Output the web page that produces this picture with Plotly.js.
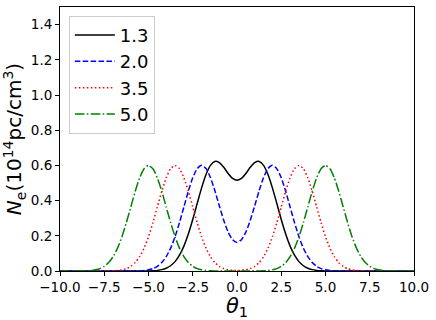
<!DOCTYPE html>
<html>
<head>
<meta charset="utf-8">
<script src="https://cdn.plot.ly/plotly-3.0.1.min.js"></script>
<style>
  html, body { margin: 0; padding: 0; background: #fff; }
  #chart { width: 436px; height: 320px; }
</style>
</head>
<body>
<div id="chart"></div>
<script>
// theta_1 sample positions
const theta = [
  -10, -9.75, -9.5, -9.25, -9, -8.75, -8.5, -8.25, -8, -7.75, -7.5, -7.25, -7, -6.75, -6.5, -6.25,
  -6, -5.75, -5.5, -5.25, -5, -4.75, -4.5, -4.25, -4, -3.75, -3.5, -3.25, -3, -2.75, -2.5, -2.25,
  -2, -1.75, -1.5, -1.25, -1, -0.75, -0.5, -0.25, 0, 0.25, 0.5, 0.75, 1, 1.25, 1.5, 1.75,
  2, 2.25, 2.5, 2.75, 3, 3.25, 3.5, 3.75, 4, 4.25, 4.5, 4.75, 5, 5.25, 5.5, 5.75,
  6, 6.25, 6.5, 6.75, 7, 7.25, 7.5, 7.75, 8, 8.25, 8.5, 8.75, 9, 9.25, 9.5, 9.75, 10
];

const seriesNames = ['1.3', '2.0', '3.5', '5.0'];

// N_e (10^14 pc/cm^3)
const ne13 = [
  0, 0, 0, 0, 0, 0, 0, 0, 0, 0, 0, 0, 0, 0, 0, 0,
  0, 0, 0.0001, 0.0002, 0.0006, 0.0016, 0.0036, 0.0077, 0.0157, 0.0298, 0.0533, 0.0896, 0.1414, 0.2099, 0.2925, 0.3832,
  0.4722, 0.5479, 0.600, 0.6225, 0.6162, 0.5892, 0.5544, 0.5263, 0.5155, 0.5263, 0.5544, 0.5892, 0.6162, 0.6225, 0.600, 0.5479,
  0.4722, 0.3832, 0.2925, 0.2099, 0.1414, 0.0896, 0.0533, 0.0298, 0.0157, 0.0077, 0.0036, 0.0016, 0.0006, 0.0002, 0.0001, 0,
  0, 0, 0, 0, 0, 0, 0, 0, 0, 0, 0, 0, 0, 0, 0, 0, 0
];
const ne20 = [
  0, 0, 0, 0, 0, 0, 0, 0, 0, 0, 0, 0, 0, 0, 0, 0.0001,
  0.0002, 0.0005, 0.0013, 0.0031, 0.0067, 0.0137, 0.0264, 0.0477, 0.0812, 0.1298, 0.1948, 0.2747, 0.3639, 0.4529, 0.5295, 0.5815,
  0.6002, 0.582, 0.5308, 0.456, 0.3706, 0.2884, 0.2212, 0.1775, 0.1624, 0.1775, 0.2212, 0.2884, 0.3706, 0.456, 0.5308, 0.582,
  0.6002, 0.5815, 0.5295, 0.4529, 0.3639, 0.2747, 0.1948, 0.1298, 0.0812, 0.0477, 0.0264, 0.0137, 0.0067, 0.0031, 0.0013, 0.0005,
  0.0002, 0.0001, 0, 0, 0, 0, 0, 0, 0, 0, 0, 0, 0, 0, 0, 0, 0
];
const ne35 = [
  0, 0, 0, 0, 0, 0, 0, 0, 0, 0.0001, 0.0002, 0.0005, 0.0013, 0.0031, 0.0067, 0.0137,
  0.0264, 0.0477, 0.0812, 0.1298, 0.1948, 0.2747, 0.3639, 0.4529, 0.5295, 0.5815, 0.600, 0.5815, 0.5295, 0.4529, 0.3639, 0.2747,
  0.1948, 0.1298, 0.0812, 0.0477, 0.0264, 0.0138, 0.0069, 0.0036, 0.0026, 0.0036, 0.0069, 0.0138, 0.0264, 0.0477, 0.0812, 0.1298,
  0.1948, 0.2747, 0.3639, 0.4529, 0.5295, 0.5815, 0.600, 0.5815, 0.5295, 0.4529, 0.3639, 0.2747, 0.1948, 0.1298, 0.0812, 0.0477,
  0.0264, 0.0137, 0.0067, 0.0031, 0.0013, 0.0005, 0.0002, 0.0001, 0, 0, 0, 0, 0, 0, 0, 0, 0
];
const ne50 = [
  0, 0, 0, 0.0001, 0.0002, 0.0005, 0.0013, 0.0031, 0.0067, 0.0137, 0.0264, 0.0477, 0.0812, 0.1298, 0.1948, 0.2747,
  0.3639, 0.4529, 0.5295, 0.5815, 0.600, 0.5815, 0.5295, 0.4529, 0.3639, 0.2747, 0.1948, 0.1298, 0.0812, 0.0477, 0.0264, 0.0137,
  0.0067, 0.0031, 0.0013, 0.0005, 0.0002, 0.0001, 0, 0, 0, 0, 0, 0.0001, 0.0002, 0.0005, 0.0013, 0.0031,
  0.0067, 0.0137, 0.0264, 0.0477, 0.0812, 0.1298, 0.1948, 0.2747, 0.3639, 0.4529, 0.5295, 0.5815, 0.600, 0.5815, 0.5295, 0.4529,
  0.3639, 0.2747, 0.1948, 0.1298, 0.0812, 0.0477, 0.0264, 0.0137, 0.0067, 0.0031, 0.0013, 0.0005, 0.0002, 0.0001, 0, 0, 0
];

const seriesValues = [ne13, ne20, ne35, ne50];
const colors = ['#000000', '#0000ff', '#ff0000', '#008000'];
const dashes = ['solid', '5.5px,2.4px', '1.5px,2.5px', '9.6px,2.4px,1.5px,2.4px'];

const FONT = 'DejaVu Sans, sans-serif';

const traces = seriesValues.map((vals, i) => ({
  x: theta,
  y: vals,
  type: 'scatter',
  mode: 'lines',
  name: seriesNames[i],
  line: { color: colors[i], width: 1.5, dash: dashes[i], shape: 'spline', smoothing: 0.6 }
}));

const axisCommon = {
  showline: true,
  mirror: true,
  linecolor: '#000',
  linewidth: 1,
  ticks: 'outside',
  ticklen: 4,
  tickwidth: 1,
  tickcolor: '#000',
  showgrid: false,
  zeroline: false,
  tickfont: { family: FONT, size: 13.5, color: '#000' }
};

const layout = {
  width: 436,
  height: 320,
  margin: { l: 60, r: 22, t: 7, b: 49 },
  paper_bgcolor: '#fff',
  plot_bgcolor: '#fff',
  font: { family: FONT, color: '#000' },
  xaxis: Object.assign({}, axisCommon, {
    range: [-10, 10],
    tick0: -10,
    dtick: 2.5,
    tickformat: '.1f',
    title: { text: '<i>θ</i><sub>1</sub>', font: { family: FONT, size: 21 }, standoff: 2 }
  }),
  yaxis: Object.assign({}, axisCommon, {
    range: [0, 1.5],
    dtick: 0.2,
    tickformat: '.1f',
    title: { text: '<i>N</i><sub>e</sub>(10<sup>14</sup>pc/cm<sup>3</sup>)', font: { family: FONT, size: 20 }, standoff: 6 }
  }),
  legend: {
    x: 0.025,
    y: 0.967,
    xanchor: 'left',
    yanchor: 'top',
    bgcolor: '#fff',
    bordercolor: '#cccccc',
    borderwidth: 1,
    font: { family: FONT, size: 18, color: '#000' },
    itemwidth: 40,
    tracegroupgap: 0
  },
  showlegend: true
};

Plotly.newPlot('chart', traces, layout, { displayModeBar: false, staticPlot: true });
</script>
</body>
</html>
